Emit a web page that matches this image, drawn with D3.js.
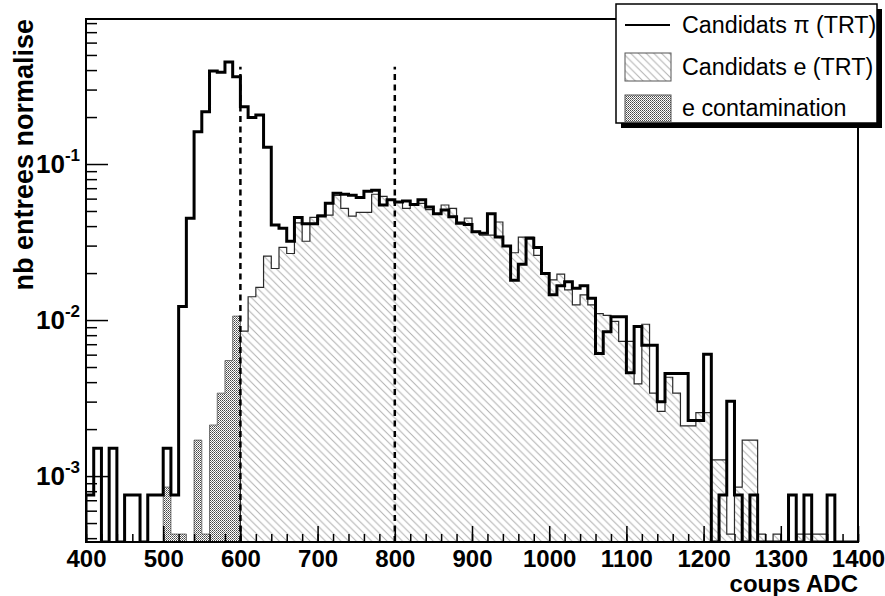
<!DOCTYPE html>
<html><head><meta charset="utf-8">
<script src="https://cdn.jsdelivr.net/npm/d3@7"></script>
<style>body{margin:0;background:#fff} svg{display:block}</style>
</head><body><svg id="c" width="885" height="596"></svg>
<script>
// ---------- data ----------
const binLow = d3.range(400, 1400, 10);           // lower edge of each 10-count bin
const binWidth = 10;
const pionValues = [
  7.55e-4, 1.51e-3, 0, 1.51e-3, 0, 7.55e-4, 7.55e-4, 0, 7.55e-4, 7.55e-4,          // 400-490
  1.51e-3, 7.55e-4, 0.0122, 0.0449, 0.161, 0.216, 0.395, 0.387, 0.451, 0.363,     // 500-590
  0.233, 0.199, 0.206, 0.128, 0.0406, 0.0387, 0.0320, 0.0455, 0.0414, 0.0414,     // 600-690
  0.0464, 0.056, 0.065, 0.064, 0.063, 0.061, 0.067, 0.068, 0.0546, 0.059,         // 700-790
  0.057, 0.058, 0.055, 0.059, 0.053, 0.048, 0.0507, 0.046, 0.0417, 0.041,         // 800-890
  0.0368, 0.036, 0.048, 0.034, 0.0298, 0.018, 0.0228, 0.0334, 0.0292, 0.0199,     // 900-990
  0.0145, 0.0166, 0.0176, 0.016, 0.0166, 0.0138, 0.0061, 0.0084, 0.0105, 0.0105,  // 1000-1090
  0.0046, 0.0091, 0.0069, 0.0069, 0.0030, 0.00455, 0.00455, 0.00455, 0.00227, 0.00227, // 1100-1190
  0.00604, 0, 7.55e-4, 0.00302, 7.55e-4, 0, 7.55e-4, 0, 0, 0,                     // 1200-1290
  0, 7.55e-4, 0, 7.55e-4, 0, 0, 7.55e-4, 0, 0, 0                                  // 1300-1390
];
const electronValues = [
  0, 0, 0, 0, 0, 0, 0, 0, 0, 0,                                                   // 400-490
  0, 0, 0, 0, 0, 0, 0, 0, 0, 0,                                                   // 500-590 (shown as contamination)
  0.0085, 0.0141, 0.0162, 0.0257, 0.0214, 0.0292, 0.0267, 0.042, 0.032, 0.0455,   // 600-690
  0.047, 0.047, 0.063, 0.052, 0.0464, 0.049, 0.049, 0.064, 0.062, 0.059,          // 700-790
  0.057, 0.052, 0.055, 0.056, 0.051, 0.048, 0.0546, 0.052, 0.0425, 0.045,         // 800-890
  0.037, 0.035, 0.035, 0.0425, 0.030, 0.027, 0.034, 0.034, 0.026, 0.0197,         // 900-990
  0.0181, 0.0197, 0.0156, 0.0125, 0.0145, 0.0125, 0.011, 0.0107, 0.0098, 0.0073,  // 1000-1090
  0.0073, 0.0039, 0.0094, 0.0034, 0.0026, 0.0043, 0.0034, 0.0021, 0.0021, 0.00255,// 1100-1190
  0.00255, 0.00127, 0.00127, 4.25e-4, 8.5e-4, 1.7e-3, 1.7e-3, 4.25e-4, 0, 4.25e-4,// 1200-1290
  0, 0, 4.25e-4, 4.25e-4, 4.25e-4, 4.25e-4, 0, 0, 0, 0                            // 1300-1390
];
const contaminationLow = d3.range(500, 600, 10);
const contaminationValues = [8.5e-4, 4.25e-4, 4.25e-4, 0, 1.7e-3, 4.25e-4, 2.125e-3, 3.4e-3, 5.5e-3, 0.0106];
const cutPositions = [600, 800];
const cutTop = 0.42;
const xTickValues = [400, 500, 600, 700, 800, 900, 1000, 1100, 1200, 1300, 1400];
const xMinorTicks = d3.range(400, 1401, 20);
const yMajorTicks = [1e-3, 1e-2, 1e-1];
const yTickBase = ["10", "10", "10"];
const yTickExp = ["-3", "-2", "-1"];
const yMinorTicks = [4e-4,5e-4,6e-4,7e-4,8e-4,9e-4, 2e-3,3e-3,4e-3,5e-3,6e-3,7e-3,8e-3,9e-3,
                     2e-2,3e-2,4e-2,5e-2,6e-2,7e-2,8e-2,9e-2, 2e-1,3e-1,4e-1,5e-1,6e-1,7e-1,8e-1];
const legendLabels = ["Candidats \u03c0 (TRT)", "Candidats e (TRT)", "e contamination"];
const xTitle = "coups ADC";
const yTitle = "nb entrees normalise";

// ---------- layout ----------
const FONT = "'Liberation Sans', Arial, Helvetica, sans-serif";
const svg = d3.select("#c");
const L = 86, R = 858, T = 19, B = 542;
const x = d3.scaleLinear().domain([400, 1400]).range([L, R]);
const y = d3.scaleLog().domain([3.78e-4, 0.85]).range([B, T]);
const yv = v => v > 0 ? Math.min(B, y(v)) : B;

const defs = svg.append("defs");
const hatch = defs.append("pattern").attr("id", "hatch").attr("patternUnits", "userSpaceOnUse")
  .attr("width", 7.7).attr("height", 7.7);
hatch.append("path").attr("d", "M-1,-1 L8.7,8.7 M-1,6.7 L1,8.7 M6.7,-1 L8.7,1")
  .attr("stroke", "#b0b0b0").attr("stroke-width", 1);
const dots = defs.append("pattern").attr("id", "dots").attr("patternUnits", "userSpaceOnUse")
  .attr("width", 2).attr("height", 2);
dots.append("rect").attr("width", 2).attr("height", 2).attr("fill", "#fff");
dots.append("rect").attr("x", 0).attr("y", 0).attr("width", 1).attr("height", 1).attr("fill", "#444");
dots.append("rect").attr("x", 1).attr("y", 1).attr("width", 1).attr("height", 1).attr("fill", "#777");
defs.append("clipPath").attr("id", "plotclip").append("rect")
  .attr("x", L).attr("y", T).attr("width", R - L).attr("height", B - T);

function stepPoints(lows, vals) {
  const pts = [[x(lows[0]), B]];
  lows.forEach((l, i) => { const yy = yv(vals[i]); pts.push([x(l), yy]); pts.push([x(l + binWidth), yy]); });
  pts.push([x(lows[lows.length - 1] + binWidth), B]);
  return pts;
}
const line = d3.line();
const plot = svg.append("g").attr("clip-path", "url(#plotclip)");

// electron hatched fill
plot.append("path").attr("d", line(stepPoints(binLow, electronValues)) + "Z")
  .attr("fill", "url(#hatch)").attr("stroke", "none");
// contamination dotted fill
plot.append("path").attr("d", line(stepPoints(contaminationLow, contaminationValues)) + "Z")
  .attr("fill", "url(#dots)").attr("stroke", "#555").attr("stroke-width", 0.8);
// electron outline
plot.append("path").attr("d", line(stepPoints(binLow, electronValues)))
  .attr("fill", "none").attr("stroke", "#2a2a2a").attr("stroke-width", 1.2);
// pion outline
plot.append("path").attr("d", line(stepPoints(binLow, pionValues)))
  .attr("fill", "none").attr("stroke", "#000").attr("stroke-width", 3).attr("stroke-linejoin", "miter");
// cut lines
plot.selectAll(".cut").data(cutPositions).join("line").attr("class", "cut")
  .attr("x1", d => x(d)).attr("x2", d => x(d)).attr("y1", B).attr("y2", y(cutTop))
  .attr("stroke", "#000").attr("stroke-width", 2.5).attr("stroke-dasharray", "6,4.5");

// ---------- axes ----------
const gx = svg.append("g").attr("transform", `translate(0,${B})`)
  .call(d3.axisBottom(x).tickValues(xMinorTicks).tickSize(-8).tickFormat(""));
gx.select(".domain").remove();
gx.selectAll("line").attr("stroke-width", 1.5);
const gx2 = svg.append("g").attr("transform", `translate(0,${B})`)
  .call(d3.axisBottom(x).tickValues(xTickValues).tickSize(-16).tickFormat(d3.format("d")));
gx2.select(".domain").remove();
gx2.selectAll("line").attr("stroke-width", 1.5);
gx2.selectAll("text").attr("y", 25).attr("dy", 0).attr("font-family", FONT)
  .attr("font-size", 24).attr("font-weight", "bold").attr("fill", "#000");

const gy = svg.append("g").attr("transform", `translate(${L},0)`)
  .call(d3.axisLeft(y).tickValues(yMinorTicks).tickSize(-11).tickFormat(""));
gy.select(".domain").remove();
gy.selectAll("line").attr("stroke-width", 1.5);
const gy2 = svg.append("g").attr("transform", `translate(${L},0)`)
  .call(d3.axisLeft(y).tickValues(yMajorTicks).tickSize(-22).tickFormat(""));
gy2.select(".domain").remove();
gy2.selectAll("line").attr("stroke-width", 1.5);
gy2.selectAll(".tick text").each(function (d, i) {
  const t = d3.select(this).attr("x", -6).attr("dy", 0).attr("y", 8)
    .attr("text-anchor", "end").attr("font-family", FONT).attr("font-weight", "bold").attr("fill", "#000");
  t.append("tspan").attr("font-size", 26).text(yTickBase[i]);
  t.append("tspan").attr("font-size", 17).attr("dy", -12).text(yTickExp[i]);
});

// frame
svg.append("rect").attr("x", L).attr("y", T).attr("width", R - L).attr("height", B - T)
  .attr("fill", "none").attr("stroke", "#000").attr("stroke-width", 2);

// titles
svg.append("text").attr("x", R).attr("y", 592).attr("text-anchor", "end")
  .attr("font-family", FONT).attr("font-size", 24).attr("font-weight", "bold").text(xTitle);
svg.append("text").attr("transform", "translate(33,19) rotate(-90)").attr("text-anchor", "end")
  .attr("font-family", FONT).attr("font-size", 27).attr("font-weight", "bold").text(yTitle);

// ---------- legend ----------
const lg = svg.append("g");
lg.append("rect").attr("x", 621).attr("y", 9).attr("width", 261).attr("height", 119).attr("fill", "#000");
lg.append("rect").attr("x", 616).attr("y", 4).attr("width", 261).attr("height", 119)
  .attr("fill", "#fff").attr("stroke", "#000").attr("stroke-width", 1.5);
const rowsY = [25, 67, 108];
lg.append("line").attr("x1", 625).attr("x2", 670).attr("y1", rowsY[0]).attr("y2", rowsY[0])
  .attr("stroke", "#000").attr("stroke-width", 2);
lg.append("rect").attr("x", 625).attr("y", 53).attr("width", 46).attr("height", 28)
  .attr("fill", "url(#hatch)").attr("stroke", "#555").attr("stroke-width", 1);
lg.append("rect").attr("x", 625).attr("y", 95).attr("width", 46).attr("height", 27)
  .attr("fill", "url(#dots)").attr("stroke", "#555").attr("stroke-width", 1);
lg.selectAll(".lt").data(legendLabels).join("text").attr("class", "lt")
  .attr("x", 682).attr("y", (d, i) => rowsY[i] + 8)
  .attr("font-family", FONT).attr("font-size", 23.3).attr("fill", "#000").text(d => d);
</script></body></html>
